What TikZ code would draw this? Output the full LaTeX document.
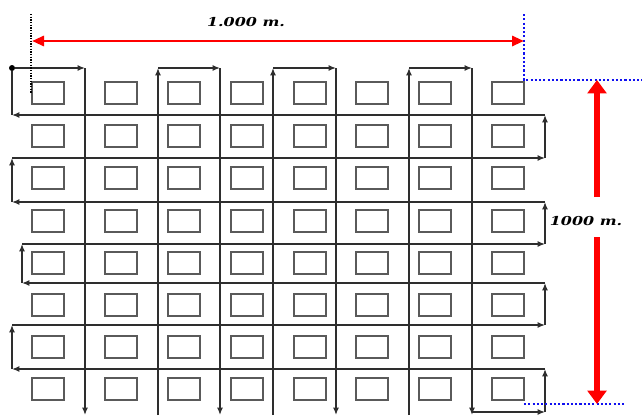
\documentclass[tikz,border=0pt]{standalone}
\usepackage{graphicx}
\usepackage{fontspec}
\usepackage{tikz}
\usetikzlibrary{arrows.meta}
\newfontfamily\dimfont{DejaVu Serif}
\definecolor{lotgray}{HTML}{5A5A5A}
\definecolor{roadgray}{HTML}{2E2E2E}
\definecolor{dimred}{HTML}{FF0000}
\definecolor{dimblue}{HTML}{1010F0}
\newcommand{\dimtext}[1]{\scalebox{1.3}[1]{#1}}

\begin{document}
\begin{tikzpicture}[x=0.75pt,y=-0.75pt,
  >={Latex[length=5.5pt,width=4.5pt]},
  lot/.style={draw=lotgray, line width=1.3pt, minimum width=23.5pt, minimum height=16pt, inner sep=0pt},
  road/.style={line width=1.05pt, color=roadgray},
  oneway/.style={road, ->},
  hdim/.style={line width=2.2pt, color=dimred, {Triangle[length=9pt,width=7.5pt]}-{Triangle[length=9pt,width=7.5pt]}},
  vdim/.style={line width=4.5pt, color=dimred, -{Triangle[length=10pt,width=14pt]}},
  guide/.style={line width=1pt, color=dimblue, dash pattern=on 1.6pt off 1.6pt},
  tick/.style={line width=1.3pt, color=black, dash pattern=on 1.1pt off 0.9pt},
  dimlbl/.style={font=\dimfont\fontsize{9.2}{11}\selectfont\bfseries\itshape, inner sep=1pt},
]
\useasboundingbox (0,0) rectangle (642,418);
\foreach \x [count=\c] in {48,121,184,247,310,372,435,508}
  \foreach \y [count=\r] in {93,136,178,221,263,305,347,389}
    \node[lot] (lot-\c-\r) at (\x,\y) {};
\node[circle, fill=black, inner sep=0pt, minimum size=4.5pt] (start) at (12,68) {};
\foreach \x [count=\i] in {85,158,220,273,336,409,472} {\coordinate (vt\i) at (\x,68); \coordinate (vb\i) at (\x,415);}
\foreach \y/\xl [count=\i] in {115/12,158/12,202/12,244/22,283/22,325/12,369/12} {\coordinate (hl\i) at (\xl,\y); \coordinate (hr\i) at (545,\y);}
\coordinate (br0) at (472,412); \coordinate (br1) at (545,412);
\draw[oneway] (start) -- (vt1);
\foreach \i in {1,3,5,7} \draw[oneway] (vt\i) -- (vb\i);
\foreach \i/\j in {2/3,4/5,6/7} {\draw[oneway] (vb\i) -- (vt\i); \draw[oneway] (vt\i) -- (vt\j);}
\foreach \i in {1,3,5,7} \draw[oneway] (hr\i) -- (hl\i);
\foreach \i in {2,4,6} \draw[oneway] (hl\i) -- (hr\i);
\draw[oneway] (br0) -- (br1); \draw[oneway] (br1) -- (hr7);
\foreach \i/\j in {1/2,3/4,5/6} \draw[oneway] (hr\j) -- (hr\i);
\foreach \i/\j in {2/3,4/5,6/7} \draw[oneway] (hl\j) -- (hl\i);
\draw[road] (hl1) -- (start);
\coordinate (tl0) at (31,14); \coordinate (tl1) at (31,93); \draw[tick] (tl0) -- (tl1);
\coordinate (gt0) at (524,14); \coordinate (gt1) at (524,80); \coordinate (gt2) at (642,80); \draw[guide] (gt0) -- (gt1) -- (gt2);
\coordinate (gb0) at (524,404); \coordinate (gb1) at (626,404); \draw[guide] (gb0) -- (gb1);
\coordinate (ha) at (32,41); \coordinate (hb) at (524,41); \draw[hdim] (ha) -- (hb);
\node[dimlbl] (wlbl) at (246,22) {\dimtext{1.000 m.}};
\node[dimlbl] (hlbl) at (586,221) {\dimtext{1000 m.}};
\coordinate (va) at (597,80); \coordinate (vu) at (597,197); \coordinate (vd) at (597,237); \coordinate (vb) at (597,404);
\draw[vdim] (vu) -- (va); \draw[vdim] (vd) -- (vb);
\end{tikzpicture}
\end{document}
